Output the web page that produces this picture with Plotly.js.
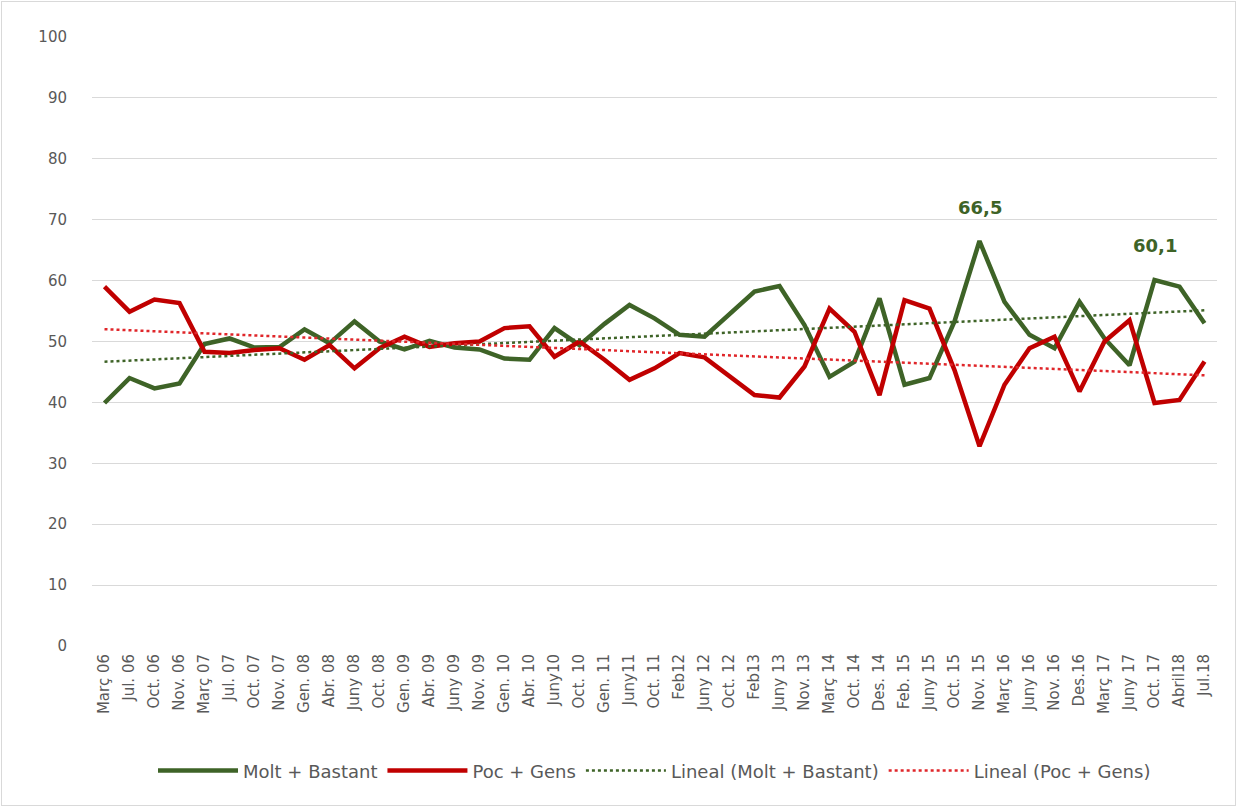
<!DOCTYPE html>
<html>
<head>
<meta charset="utf-8">
<script src="https://cdn.plot.ly/plotly-3.0.1.min.js"></script>
<style>
  html, body { margin: 0; padding: 0; background: #fff; }
  #chart { width: 1233px; height: 803px; border: 1px solid #d9d9d9; margin: 1px; }
</style>
</head>
<body>
<div id="chart"></div>
<script>
const categories = [
  "Març 06", "Jul. 06", "Oct. 06", "Nov. 06", "Març 07", "Jul. 07", "Oct. 07", "Nov. 07",
  "Gen. 08", "Abr. 08", "Juny 08", "Oct. 08", "Gen. 09", "Abr. 09", "Juny 09", "Nov. 09",
  "Gen. 10", "Abr. 10", "Juny10", "Oct. 10", "Gen. 11", "Juny11", "Oct. 11", "Feb12",
  "Juny 12", "Oct. 12", "Feb13", "Juny 13", "Nov. 13", "Març 14", "Oct. 14", "Des. 14",
  "Feb. 15", "Juny 15", "Oct. 15", "Nov. 15", "Març 16", "Juny 16", "Nov. 16", "Des.16",
  "Març 17", "Juny 17", "Oct. 17", "Abril18", "Jul.18"
];

const moltBastant = [
  39.9, 44.0, 42.3, 43.1, 49.6, 50.5, 49.0, 49.1,
  52.0, 49.7, 53.3, 50.0, 48.7, 50.1, 49.0, 48.7,
  47.2, 47.0, 52.2, 49.4, 52.9, 56.0, 53.8, 51.1,
  50.8, 54.6, 58.2, 59.1, 52.7, 44.2, 46.7, 57.1,
  42.9, 44.0, 53.3, 66.5, 56.5, 51.1, 48.9, 56.5,
  50.5, 46.1, 60.1, 59.0, 53.0
];

const pocGens = [
  59.0, 54.9, 56.9, 56.3, 48.3, 48.1, 48.6, 48.9,
  47.0, 49.4, 45.6, 48.9, 50.8, 49.1, 49.7, 50.0,
  52.2, 52.5, 47.5, 50.0, 47.0, 43.7, 45.6, 48.1,
  47.4, 44.2, 41.2, 40.8, 45.9, 55.4, 51.6, 41.2,
  56.8, 55.4, 45.3, 32.8, 42.9, 48.9, 50.8, 41.8,
  50.0, 53.5, 39.9, 40.4, 46.7
];

const seriesNames = ["Molt + Bastant", "Poc + Gens", "Lineal (Molt + Bastant)", "Lineal (Poc + Gens)"];
const labelledPoints = [35, 42];   // indices of Molt + Bastant points carrying data labels
const yTicks = [0, 10, 20, 30, 40, 50, 60, 70, 80, 90, 100];

const GREEN = "#3e6327";
const RED = "#c00000";
const FONT = "'DejaVu Sans', 'Open Sans', sans-serif";

// Excel-style linear trendline (least squares over category index)
function linearTrend(vals) {
  const n = vals.length;
  let sx = 0, sy = 0, sxx = 0, sxy = 0;
  vals.forEach((v, i) => { const x = i + 1; sx += x; sy += v; sxx += x * x; sxy += x * v; });
  const b = (n * sxy - sx * sy) / (n * sxx - sx * sx);
  const a = (sy - b * sx) / n;
  return vals.map((v, i) => a + b * (i + 1));
}

const fmt = v => String(v.toFixed(1)).replace(".", ",");

const traces = [
  { x: categories, y: moltBastant, name: seriesNames[0], mode: "lines",
    line: { color: GREEN, width: 4.5 } },
  { x: categories, y: pocGens, name: seriesNames[1], mode: "lines",
    line: { color: RED, width: 4.5 } },
  { x: categories, y: linearTrend(moltBastant), name: seriesNames[2], mode: "lines",
    line: { color: GREEN, width: 2.5, dash: "dot" } },
  { x: categories, y: linearTrend(pocGens), name: seriesNames[3], mode: "lines",
    line: { color: "#e0262a", width: 2.5, dash: "dot" } }
];

const annotations = labelledPoints.map(i => ({
  x: categories[i], y: moltBastant[i], xref: "x", yref: "y",
  text: "<b>" + fmt(moltBastant[i]) + "</b>", showarrow: false,
  yshift: 34, font: { family: FONT, size: 18, color: GREEN }
}));

const layout = {
  width: 1233, height: 803,
  margin: { l: 90, r: 18, t: 35, b: 159 },
  paper_bgcolor: "#ffffff", plot_bgcolor: "#ffffff",
  showlegend: true,
  legend: {
    orientation: "h", x: 0.5, xanchor: "center", y: -0.205, yanchor: "middle",
    font: { family: FONT, size: 18, color: "#595959" },
    itemwidth: 80, traceorder: "normal"
  },
  xaxis: {
    type: "category", range: [-0.5, 44.5],
    showgrid: false, zeroline: false, showline: false,
    ticks: "", tickangle: -90, ticklabelstandoff: 4,
    tickfont: { family: FONT, size: 15, color: "#595959" },
    fixedrange: true
  },
  yaxis: {
    range: [0, 100], tickvals: yTicks, ticktext: yTicks.map(String),
    showgrid: true, gridcolor: "#d9d9d9", gridwidth: 1,
    zeroline: false, showline: false, ticks: "", ticklabelstandoff: 24,
    tickfont: { family: FONT, size: 15, color: "#595959" },
    fixedrange: true
  },
  annotations: annotations,
  hovermode: false
};

Plotly.newPlot("chart", traces, layout, { displayModeBar: false, staticPlot: true });
</script>
</body>
</html>
